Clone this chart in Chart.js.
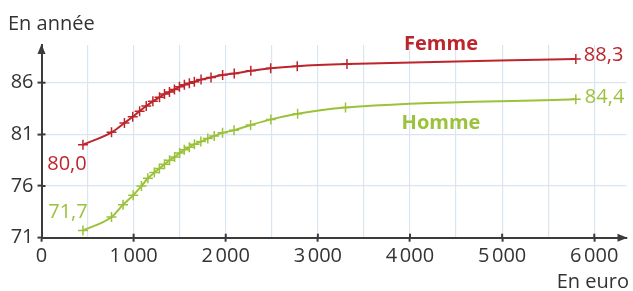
<!DOCTYPE html>
<html lang="fr">
<head>
<meta charset="utf-8">
<title>Espérance de vie selon le niveau de vie</title>
<script src="https://cdn.jsdelivr.net/npm/chart.js@4.4.1/dist/chart.umd.min.js"></script>
<style>
  html, body { margin: 0; padding: 0; background: #fff; }
  canvas { display: block; }
</style>
</head>
<body>
<canvas id="myChart" width="633" height="291"></canvas>
<script>
// niveau de vie mensuel (euros) et espérance de vie (années)
const revenusFemme = [450, 760, 900, 990, 1065, 1137, 1209, 1281, 1335, 1389, 1443, 1497, 1551, 1605, 1659, 1732, 1840, 1966, 2092, 2272, 2488, 2776, 3316, 5800];
const esperanceFemme = [80.0, 81.2, 82.1, 82.7, 83.25, 83.75, 84.2, 84.6, 84.9, 85.1, 85.35, 85.6, 85.8, 85.95, 86.1, 86.3, 86.5, 86.75, 86.9, 87.15, 87.4, 87.6, 87.8, 88.3];

const revenusHomme = [450, 760, 885, 995, 1085, 1155, 1225, 1280, 1335, 1390, 1445, 1500, 1550, 1605, 1660, 1730, 1805, 1875, 1965, 2090, 2270, 2490, 2780, 3300, 5800];
const esperanceHomme = [71.7, 73.0, 74.2, 75.1, 76.0, 76.75, 77.3, 77.7, 78.1, 78.5, 78.8, 79.2, 79.5, 79.75, 80.05, 80.3, 80.6, 80.85, 81.15, 81.4, 81.9, 82.45, 83.0, 83.6, 84.4];

const xTicks = [0, 500, 1000, 1500, 2000, 2500, 3000, 3500, 4000, 4500, 5000, 5500, 6000];
const yTicks = [71, 76, 81, 86];

const rouge = "#bd252c";
const vert = "#9bc23a";
const axe = "#3b3b3b";
const grille = "#d9e5f1";
const police = "'Open Sans', 'DejaVu Sans', sans-serif";

function enMilliers(v) {
  return String(v).replace(/\B(?=(\d{3})+(?!\d))/g, "\u202f");
}
function virgule(v) {
  return v.toFixed(1).replace(".", ",");
}

// flèches des axes + étiquettes
const annotations = {
  id: "annotations",
  afterDraw(chart) {
    const { ctx, chartArea: a, scales: { x, y } } = chart;
    ctx.save();
    ctx.strokeStyle = axe;
    ctx.fillStyle = axe;
    ctx.lineWidth = 2;

    // petits traits intérieurs des graduations
    xTicks.filter(v => v > 0 && v % 1000 === 0).forEach(v => {
      const px = x.getPixelForValue(v);
      ctx.beginPath(); ctx.moveTo(px, a.bottom); ctx.lineTo(px, a.bottom - 4); ctx.stroke();
    });
    yTicks.filter(v => v > 71).forEach(v => {
      const py = y.getPixelForValue(v);
      ctx.beginPath(); ctx.moveTo(a.left, py); ctx.lineTo(a.left + 4, py); ctx.stroke();
    });

    // flèche horizontale
    ctx.beginPath();
    ctx.moveTo(a.right + 1, a.bottom);
    ctx.lineTo(a.right - 9, a.bottom - 4);
    ctx.lineTo(a.right - 9, a.bottom + 4);
    ctx.closePath(); ctx.fill();
    // flèche verticale
    ctx.beginPath();
    ctx.moveTo(a.left, a.top - 1);
    ctx.lineTo(a.left - 4, a.top + 9);
    ctx.lineTo(a.left + 4, a.top + 9);
    ctx.closePath(); ctx.fill();

    // titres des axes
    ctx.font = "20px " + police;
    ctx.textBaseline = "middle";
    ctx.textAlign = "left";
    ctx.fillStyle = "#333";
    ctx.fillText("En année", 8, 24);
    ctx.textAlign = "right";
    ctx.fillText("En euro", 629, 282);

    // valeurs extrêmes
    const pf0 = [x.getPixelForValue(revenusFemme[0]), y.getPixelForValue(esperanceFemme[0])];
    const ph0 = [x.getPixelForValue(revenusHomme[0]), y.getPixelForValue(esperanceHomme[0])];
    const nf = revenusFemme.length - 1, nh = revenusHomme.length - 1;
    const pf1 = [x.getPixelForValue(revenusFemme[nf]), y.getPixelForValue(esperanceFemme[nf])];
    const ph1 = [x.getPixelForValue(revenusHomme[nh]), y.getPixelForValue(esperanceHomme[nh])];

    ctx.textAlign = "center";
    ctx.fillStyle = rouge;
    ctx.fillText(virgule(esperanceFemme[0]), pf0[0] - 16, pf0[1] + 20);
    ctx.fillStyle = vert;
    ctx.fillText(virgule(esperanceHomme[0]), ph0[0] - 15, ph0[1] - 18);

    ctx.textAlign = "left";
    ctx.fillStyle = rouge;
    ctx.fillText(virgule(esperanceFemme[nf]), pf1[0] + 8, pf1[1] - 4);
    ctx.fillStyle = vert;
    ctx.fillText(virgule(esperanceHomme[nh]), ph1[0] + 9, ph1[1] - 2);

    // noms des séries
    ctx.font = "bold 20px " + police;
    ctx.textAlign = "center";
    ctx.fillStyle = rouge;
    ctx.fillText("Femme", 441, 44);
    ctx.fillStyle = vert;
    ctx.fillText("Homme", 441, 123);

    ctx.restore();
  }
};

document.addEventListener("DOMContentLoaded", () => {
  const ctx = document.getElementById("myChart");

  new Chart(ctx, {
    type: "line",
    data: {
      datasets: [
        {
          label: "Femme",
          data: revenusFemme.map((v, i) => ({ x: v, y: esperanceFemme[i] })),
          borderColor: rouge,
          backgroundColor: rouge,
          borderWidth: 2,
          pointStyle: "cross",
          pointRadius: 5,
          pointBorderWidth: 1.5,
          cubicInterpolationMode: "monotone"
        },
        {
          label: "Homme",
          data: revenusHomme.map((v, i) => ({ x: v, y: esperanceHomme[i] })),
          borderColor: vert,
          backgroundColor: vert,
          borderWidth: 2,
          pointStyle: "cross",
          pointRadius: 5,
          pointBorderWidth: 1.5,
          cubicInterpolationMode: "monotone"
        }
      ]
    },
    options: {
      responsive: false,
      animation: false,
      devicePixelRatio: 1,
      layout: { padding: { top: 45, right: 4, left: 0, bottom: 0 } },
      plugins: {
        legend: { display: false },
        tooltip: { enabled: false }
      },
      scales: {
        x: {
          type: "linear",
          min: 0,
          max: 6350,
          afterBuildTicks: scale => { scale.ticks = xTicks.map(v => ({ value: v })); },
          afterFit: scale => { scale.height = 53.3; },
          border: { display: true, color: axe, width: 2 },
          grid: {
            color: c => (c.tick && c.tick.value === 0 ? "transparent" : grille),
            lineWidth: 1.2,
            tickLength: 4,
            tickWidth: 2,
            tickColor: c => (c.tick && c.tick.value % 1000 === 0 ? axe : "transparent")
          },
          ticks: {
            autoSkip: false,
            maxRotation: 0,
            padding: 3,
            color: "#333",
            font: { family: police, size: 20 },
            callback: v => (v % 1000 === 0 ? enMilliers(v) : "")
          }
        },
        y: {
          min: 71,
          max: 89.65,
          afterBuildTicks: scale => { scale.ticks = yTicks.map(v => ({ value: v })); },
          afterFit: scale => { scale.width = 41.5; },
          border: { display: true, color: axe, width: 2 },
          grid: {
            color: c => (c.tick && c.tick.value === 71 ? "transparent" : grille),
            lineWidth: 1.2,
            tickLength: 4,
            tickWidth: 2,
            tickColor: axe
          },
          ticks: {
            padding: 4,
            color: "#333",
            font: { family: police, size: 20 }
          }
        }
      }
    },
    plugins: [annotations]
  });
});
</script>
</body>
</html>
